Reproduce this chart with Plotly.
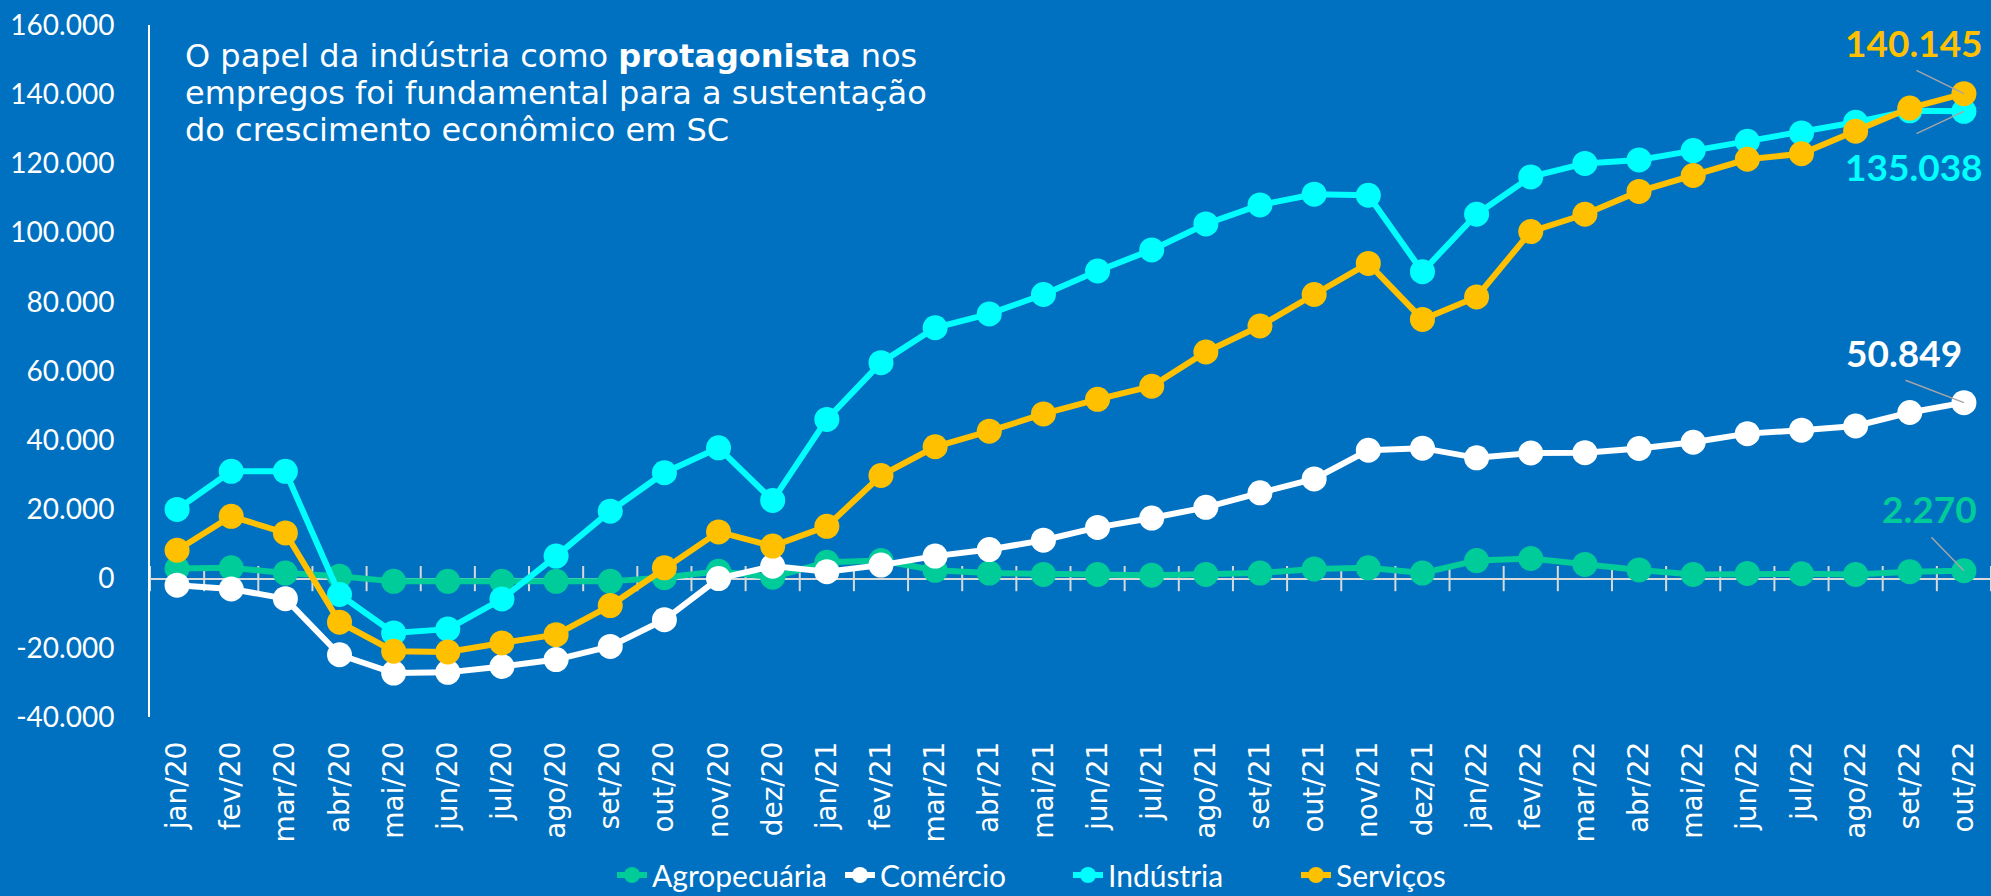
import plotly.graph_objects as go

months = ["jan/20", "fev/20", "mar/20", "abr/20", "mai/20", "jun/20", "jul/20", "ago/20",
          "set/20", "out/20", "nov/20", "dez/20", "jan/21", "fev/21", "mar/21", "abr/21",
          "mai/21", "jun/21", "jul/21", "ago/21", "set/21", "out/21", "nov/21", "dez/21",
          "jan/22", "fev/22", "mar/22", "abr/22", "mai/22", "jun/22", "jul/22", "ago/22",
          "set/22", "out/22"]

agropecuaria = [2900, 3100, 1600, 700, -800, -800, -800, -800, -800, 300, 2100, 400,
                4700, 5200, 2400, 1600, 1200, 1200, 1000, 1200, 1600, 2800, 3100, 1600,
                5200, 5800, 4100, 2500, 1200, 1500, 1400, 1200, 2000, 2270]
comercio = [-1900, -3000, -5800, -22000, -27300, -27100, -25400, -23400, -19600, -11900, 0, 3600,
            2000, 3900, 6500, 8400, 11100, 14800, 17500, 20600, 24800, 28800, 37100, 37700,
            34900, 36300, 36400, 37600, 39400, 41900, 42900, 44100, 48000, 50849]
industria = [20000, 31000, 31000, -4600, -15700, -14600, -5900, 6500, 19500, 30600, 37800, 22600,
             46000, 62400, 72500, 76500, 82100, 88900, 95000, 102500, 108000, 111100, 110800, 88700,
             105300, 116100, 120000, 121000, 123700, 126400, 128800, 131900, 135200, 135038]
servicos = [8200, 18000, 13200, -12600, -21000, -21200, -18600, -16200, -7800, 3100, 13500, 9400,
            15100, 29800, 38100, 42600, 47600, 51800, 55600, 65500, 73000, 82100, 91100, 74900,
            81400, 100300, 105300, 111900, 116500, 121200, 122800, 129300, 136000, 140145]

series_names = ["Agropecuária", "Comércio", "Indústria", "Serviços"]
series_values = [agropecuaria, comercio, industria, servicos]
series_colors = ["#00CC99", "#FFFFFF", "#00FFFF", "#FFC000"]

y_tick_vals = [-40000, -20000, 0, 20000, 40000, 60000, 80000, 100000, 120000, 140000, 160000]
y_tick_text = ["-40.000", "-20.000", "0", "20.000", "40.000", "60.000", "80.000",
               "100.000", "120.000", "140.000", "160.000"]

title_lines = [
    "O papel da indústria como <b>protagonista</b> nos",
    "empregos foi fundamental para a sustentação",
    "do crescimento econômico em SC",
]

BG = "#0070C0"
W, H = 1991, 896
ML, MR, MT, MB = 150, 0, 25, 179
PW, PH = W - ML - MR, H - MT - MB
idx = list(range(len(months)))

fig = go.Figure()

# boundary tick marks crossing the zero line
fig.add_trace(go.Scatter(
    x=[i - 0.5 for i in range(len(months) + 1)], y=[0] * (len(months) + 1),
    mode="markers", marker=dict(symbol="line-ns", size=18, line=dict(color="#D9D9D9", width=2)),
    showlegend=False, hoverinfo="skip", cliponaxis=False))

for name, vals, col in zip(series_names, series_values, series_colors):
    fig.add_trace(go.Scatter(
        x=idx, y=vals, name=name, mode="lines+markers",
        line=dict(color=col, width=6),
        marker=dict(color=col, size=25),
        cliponaxis=False))

# end-value labels with leader lines
label_offsets = {  # (text xshift, text yshift, leader ax, leader ay)
    "Agropecuária": (-34, 62, -34, -35),
    "Comércio": (-60, 50, -60, -23),
    "Indústria": (-50, -55, -49, 23),
    "Serviços": (-50, 51, -49, -24),
}
for name, vals, col in zip(series_names, series_values, series_colors):
    last = vals[-1]
    txt = f"{last:,}".replace(",", ".")
    dx, dy, ax, ay = label_offsets[name]
    fig.add_annotation(x=idx[-1], y=last, text=f"<b>{txt}</b>", showarrow=False,
                       xshift=dx, yshift=dy, xanchor="center", yanchor="middle",
                       font=dict(family="Lato", size=37, color=col))
    fig.add_annotation(x=idx[-1], y=last, text="", showarrow=True, arrowhead=0,
                       arrowwidth=1.5, arrowcolor="#A6A6A6", ax=ax, ay=ay, standoff=0)

for k, line in enumerate(title_lines):
    ypix = 56 + 37 * k
    fig.add_annotation(xref="paper", yref="paper", x=(183 - ML) / PW,
                       y=(H - MB - ypix) / PH, text=line, showarrow=False,
                       xanchor="left", yanchor="middle", align="left",
                       font=dict(family="DejaVu Sans", size=32, color="white"))

fig.update_layout(
    width=W, height=H,
    paper_bgcolor=BG, plot_bgcolor=BG,
    margin=dict(l=ML, r=MR, t=MT, b=MB),
    showlegend=True,
    legend=dict(orientation="h", xref="container", yref="container", x=612 / W, y=1 - 875 / H,
                xanchor="left", yanchor="middle", font=dict(family="Lato", size=30, color="white"),
                bgcolor="rgba(0,0,0,0)", entrywidth=183, entrywidthmode="pixels"),
    xaxis=dict(range=[-0.5, len(months) - 0.5], tickmode="array", tickvals=idx, ticktext=months,
               tickangle=-90, showgrid=False, zeroline=False, showline=False, ticks="",
               tickfont=dict(family="DejaVu Sans", size=28, color="white"), ticklabelstandoff=18),
    yaxis=dict(range=[-40000, 160000], tickmode="array", tickvals=y_tick_vals, ticktext=y_tick_text,
               showgrid=False, zeroline=True, zerolinecolor="#D9D9D9", zerolinewidth=2,
               showline=True, linecolor="white", linewidth=2, ticks="",
               tickfont=dict(family="Lato", size=28, color="white"), ticklabelstandoff=28),
)

fig.write_html("out.html", config={"displayModeBar": False},
               post_script="document.body.style.margin='0';")
